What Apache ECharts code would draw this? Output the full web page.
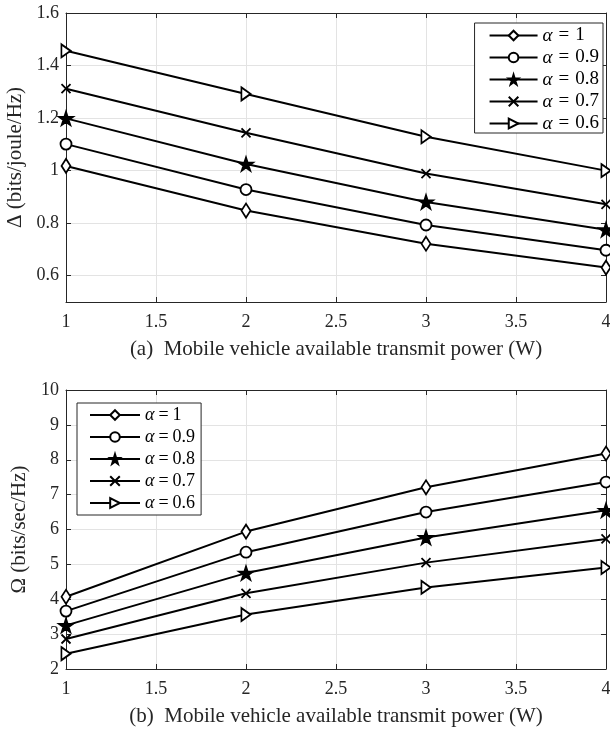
<!DOCTYPE html>
<html>
<head>
<meta charset="utf-8">
<script src="https://cdn.jsdelivr.net/npm/echarts@6/dist/echarts.min.js"></script>
<style>
  html, body { margin: 0; padding: 0; background: #fff; }
  #chart { width: 610px; height: 733px; }
</style>
</head>
<body>
<div id="chart"></div>
<script>
// x = available transmit power (W)
const power = [1, 2, 3, 4]
const alphaNames = ['α = 1', 'α = 0.9', 'α = 0.8', 'α = 0.7', 'α = 0.6']

// (a) energy efficiency Δ (bits/joule/Hz)
const deltaA1 = [1.018, 0.848, 0.722, 0.631]
const deltaA09 = [1.101, 0.928, 0.793, 0.697]
const deltaA08 = [1.199, 1.025, 0.881, 0.775]
const deltaA07 = [1.312, 1.144, 0.989, 0.872]
const deltaA06 = [1.456, 1.292, 1.129, 1.0]

// (b) spectral efficiency Ω (bits/sec/Hz)
const omegaA1 = [4.07, 5.94, 7.21, 8.18]
const omegaA09 = [3.66, 5.35, 6.50, 7.36]
const omegaA08 = [3.25, 4.75, 5.77, 6.55]
const omegaA07 = [2.86, 4.17, 5.05, 5.73]
const omegaA06 = [2.44, 3.56, 4.34, 4.91]

const xTicks = [1, 1.5, 2, 2.5, 3, 3.5, 4]
const deltaRange = [0.5, 1.6]   // labels every 0.2 from 0.6
const omegaTicks = [2, 3, 4, 5, 6, 7, 8, 9, 10]

const captionA = '(a)  Mobile vehicle available transmit power (W)'
const captionB = '(b)  Mobile vehicle available transmit power (W)'

const FONT = 'Liberation Serif'
const AX = '#262626'

const markers = [
    { symbol: 'diamond', symbolSize: [9, 14], fill: '#fff' },
    { symbol: 'circle', symbolSize: 11, fill: '#fff' },
    { symbol: 'path://M50,0 L61,35 L98,35 L68,57 L79,91 L50,70 L21,91 L32,57 L2,35 L39,35 Z', symbolSize: 14, fill: '#000' },
    { symbol: 'path://M0,0 L10,10 M10,0 L0,10', symbolSize: 9, fill: '#000' },
    { symbol: 'path://M0,0 L10,6 L0,12 Z', symbolSize: [11, 13], fill: '#fff' },
]

function makeSeries(list, idx) {
    return list.map((vals, i) => ({
        name: alphaNames[i],
        type: 'line',
        xAxisIndex: idx,
        yAxisIndex: idx,
        data: power.map((p, j) => [p, vals[j]]),
        symbol: markers[i].symbol,
        symbolSize: markers[i].symbolSize,
        symbolKeepAspect: true,
        showAllSymbol: true,
        clip: false,
        lineStyle: { color: '#000', width: 2 },
        itemStyle: { color: markers[i].fill, borderColor: '#000', borderWidth: 1.8 },
        emphasis: { disabled: true },
        z: 5,
    }))
}

function mainX(grid, caption) {
    return {
        type: 'value', gridIndex: grid, position: 'bottom',
        min: xTicks[0], max: xTicks[xTicks.length - 1], interval: xTicks[1] - xTicks[0],
        name: caption, nameLocation: 'middle', nameGap: 37,
        nameTextStyle: { fontFamily: FONT, fontSize: 21, color: AX },
        axisLine: { show: true, lineStyle: { color: AX, width: 1 } },
        axisTick: { show: true, inside: true, length: 5, lineStyle: { color: AX } },
        axisLabel: { fontFamily: FONT, fontSize: 18, color: AX, margin: 11 },
        splitLine: { show: true, lineStyle: { color: '#e3e3e3', width: 1 } },
    }
}
function topX(grid) {
    return {
        type: 'value', gridIndex: grid, position: 'top',
        min: xTicks[0], max: xTicks[xTicks.length - 1], interval: xTicks[1] - xTicks[0],
        axisLine: { show: true, lineStyle: { color: AX, width: 1 } },
        axisTick: { show: true, inside: true, length: 5, lineStyle: { color: AX } },
        axisLabel: { show: false }, splitLine: { show: false },
    }
}

const hideMin = v => (Math.abs(v - deltaRange[0]) < 1e-9 ? '' : String(+v.toFixed(1)))

function yAx(grid, pos, opts, name) {
    const main = pos === 'left'
    return Object.assign({
        type: 'value', gridIndex: grid, position: pos,
        name: main ? name : '', nameLocation: 'middle', nameGap: 36,
        nameTextStyle: { fontFamily: FONT, fontSize: 21, color: AX },
        axisLine: { show: true, lineStyle: { color: AX, width: 1 } },
        axisTick: { show: true, inside: true, length: 5, lineStyle: { color: AX } },
        axisLabel: { show: main, fontFamily: FONT, fontSize: 18, color: AX, margin: 7 },
        splitLine: { show: main, lineStyle: { color: '#e3e3e3', width: 1 } },
    }, opts)
}

function legend(pos, fs, eqPad, gap, pad, iw) {
    const base = { fontFamily: FONT, fontSize: fs, lineHeight: 18, color: '#000' }
    return Object.assign({
        orient: 'vertical',
        data: alphaNames,
        itemWidth: iw, itemHeight: 12, itemGap: gap,
        padding: pad,
        backgroundColor: '#fff',
        borderColor: AX, borderWidth: 1, borderRadius: 0,
        selectedMode: false,
        formatter: n => '{i|α}{e|=}{n|' + n.split('=')[1].trim() + '}',
        textStyle: Object.assign({}, base, {
            rich: {
                i: Object.assign({}, base, { fontStyle: 'italic' }),
                e: Object.assign({}, base, { padding: [0, eqPad, 0, eqPad] }),
                n: base,
            },
        }),
    }, pos)
}

const chart = echarts.init(document.getElementById('chart'), null, { renderer: 'canvas' })
chart.setOption({
    backgroundColor: '#fff',
    animation: false,
    grid: [
        { left: 66, right: 4, top: 13, height: 289, containLabel: false, outerBoundsMode: 'none' },
        { left: 66, right: 4, top: 390, height: 279, containLabel: false, outerBoundsMode: 'none' },
    ],
    legend: [
        legend({ right: 7, top: 23 }, 19, 6, 3, [3, 4, 0, 14], 48),
        legend({ left: 77, top: 403 }, 18, 4, 4, [3, 6, 3, 12], 50),
    ],
    xAxis: [mainX(0, captionA), mainX(1, captionB), topX(0), topX(1)],
    yAxis: [
        yAx(0, 'left', { min: deltaRange[0], max: deltaRange[1], splitNumber: 5, axisLabel: { show: true, fontFamily: FONT, fontSize: 18, color: AX, margin: 7, formatter: hideMin } }, 'Δ (bits/joule/Hz)'),
        yAx(1, 'left', { min: omegaTicks[0], max: omegaTicks[omegaTicks.length - 1], interval: 1 }, 'Ω (bits/sec/Hz)'),
        yAx(0, 'right', { min: deltaRange[0], max: deltaRange[1], splitNumber: 5 }),
        yAx(1, 'right', { min: omegaTicks[0], max: omegaTicks[omegaTicks.length - 1], interval: 1 }),
    ],
    series: [
        ...makeSeries([deltaA1, deltaA09, deltaA08, deltaA07, deltaA06], 0),
        ...makeSeries([omegaA1, omegaA09, omegaA08, omegaA07, omegaA06], 1),
    ],
})
</script>
</body>
</html>
